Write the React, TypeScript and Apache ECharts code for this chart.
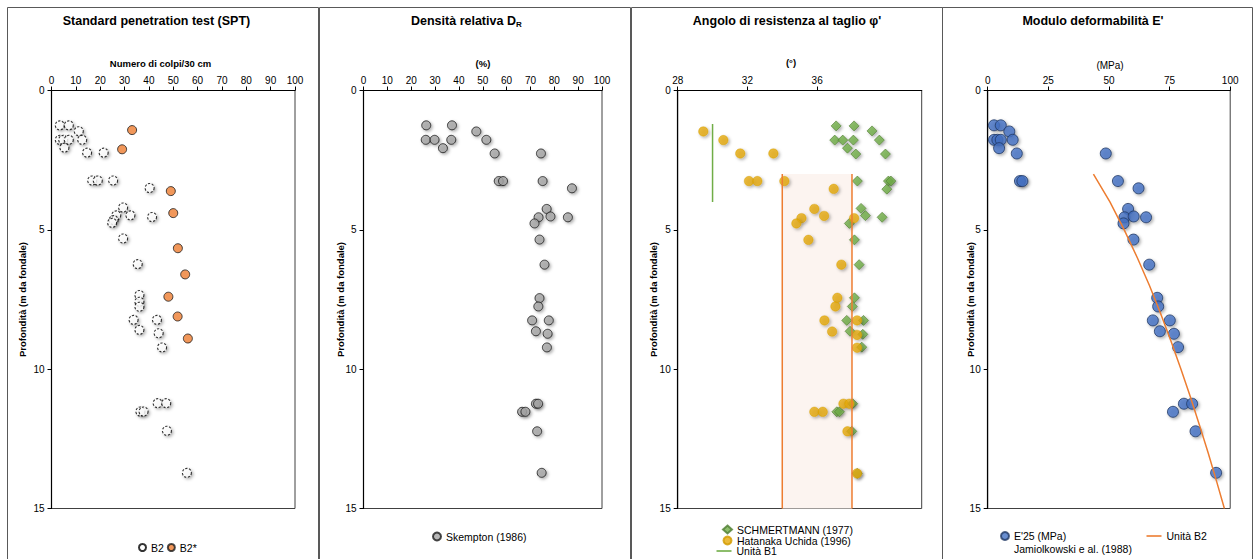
import React, { useEffect, useRef } from "react";
import * as echarts from "echarts";

// ---------- data: [value, depth (m)] ----------
const sptB2: [number, number][] = [
  [3.4, 1.25], [7.1, 1.25], [11.2, 1.46], [3.4, 1.77], [4.8, 1.77], [7.1, 1.77], [12.6, 1.77],
  [5.3, 2.05], [14.6, 2.23], [21.4, 2.23], [16.7, 3.23], [19.0, 3.23], [25.3, 3.23], [40.3, 3.5],
  [29.4, 4.2], [26.6, 4.48], [32.4, 4.48], [41.3, 4.54], [25.5, 4.65], [24.9, 4.75], [29.4, 5.31],
  [35.4, 6.23], [36.1, 7.34], [36.1, 7.58], [36.1, 7.76], [33.7, 8.23], [43.3, 8.23], [36.1, 8.59],
  [44.0, 8.71], [45.4, 9.22], [43.6, 11.22], [47.1, 11.22], [36.5, 11.52], [37.8, 11.52],
  [47.4, 12.21], [55.6, 13.72],
];

const sptB2star: [number, number][] = [
  [33.1, 1.42], [29.0, 2.11], [49.0, 3.61], [50.0, 4.4], [51.9, 5.66], [54.9, 6.6], [48.0, 7.4],
  [51.8, 8.11], [56.0, 8.9],
];

const densitySkempton: [number, number][] = [
  [26.3, 1.25], [37.1, 1.25], [47.3, 1.47], [26.1, 1.77], [29.8, 1.77], [36.8, 1.77], [51.5, 1.77],
  [33.3, 2.07], [55.0, 2.26], [74.4, 2.26], [56.7, 3.25], [58.5, 3.25], [75.1, 3.25], [87.4, 3.51],
  [76.8, 4.25], [73.4, 4.55], [78.4, 4.52], [85.7, 4.55], [71.7, 4.77], [73.8, 5.35], [75.9, 6.25],
  [73.8, 7.45], [73.3, 7.75], [70.7, 8.25], [77.7, 8.25], [72.3, 8.64], [77.2, 8.73], [76.9, 9.22],
  [72.3, 11.24], [73.2, 11.24], [66.5, 11.53], [67.9, 11.53], [72.8, 12.23], [74.7, 13.72],
];

const phiSchmertmann: [number, number][] = [
  [37.09, 1.27], [38.12, 1.27], [39.15, 1.45], [37.01, 1.78], [37.47, 1.78], [38.08, 1.78],
  [39.57, 1.78], [37.74, 2.07], [38.22, 2.28], [39.92, 2.28], [38.31, 3.25], [40.09, 3.25],
  [40.23, 3.25], [40.0, 3.54], [38.52, 4.23], [38.77, 4.49], [39.73, 4.55], [37.85, 4.77],
  [38.14, 5.36], [38.41, 6.25], [38.14, 7.44], [38.02, 7.75], [37.7, 8.25], [38.66, 8.25],
  [37.89, 8.64], [38.62, 8.75], [38.56, 9.21], [38.04, 11.24], [37.13, 11.53], [37.28, 11.53],
  [37.99, 12.23], [38.3, 13.74],
];

const phiHatanaka: [number, number][] = [
  [29.47, 1.47], [30.62, 1.78], [31.59, 2.26], [33.49, 2.26], [32.09, 3.25], [32.57, 3.25],
  [34.12, 3.25], [36.95, 3.53], [35.84, 4.25], [36.4, 4.5], [35.1, 4.58], [34.81, 4.77],
  [38.12, 4.58], [35.5, 5.36], [37.39, 6.25], [37.16, 7.44], [37.05, 7.75], [36.42, 8.25],
  [38.29, 8.25], [36.86, 8.65], [38.29, 8.77], [38.29, 9.23], [37.51, 11.24], [37.85, 11.24],
  [35.84, 11.53], [36.32, 11.53], [37.74, 12.23], [38.29, 13.74],
];

// design lines for the friction angle
const unitB1Phi: [number, number][] = [[30, 1.2], [30, 4.0]];
const unitB2PhiMin: [number, number][] = [[34, 3], [34, 15]];
const unitB2PhiMax: [number, number][] = [[38, 3], [38, 15]];

const modulusE25: [number, number][] = [
  [2.6, 1.25], [5.4, 1.25], [8.9, 1.47], [2.6, 1.77], [4.0, 1.77], [5.4, 1.77], [10.3, 1.77],
  [4.7, 2.07], [12.0, 2.26], [48.7, 2.26], [13.3, 3.25], [14.3, 3.25], [53.7, 3.25], [62.2, 3.51],
  [57.9, 4.25], [56.4, 4.55], [60.2, 4.52], [65.3, 4.55], [56.0, 4.77], [60.1, 5.35], [66.6, 6.25],
  [69.9, 7.44], [70.3, 7.75], [68.1, 8.25], [75.1, 8.25], [71.0, 8.64], [76.8, 8.73], [78.5, 9.21],
  [80.9, 11.24], [84.3, 11.24], [76.4, 11.53], [85.7, 12.23], [94.2, 13.72],
];

const unitB2Depths = [3, 4, 5, 6, 7, 8, 9, 10, 11, 12, 13, 14, 15];
const unitB2Modulus = [43.6, 50.4, 56.3, 61.7, 66.7, 71.3, 75.6, 79.7, 83.6, 87.3, 90.9, 94.3, 97.6];

const depthTicks = [0, 5, 10, 15];
const phiTicks = [28, 32, 36, 40];

// ---------- styling ----------
const FONT = "'Liberation Sans', Arial, Helvetica, sans-serif";
const DEPTH_NAME = "Profondità (m da fondale)";
const SHADOW = {
  shadowColor: "rgba(0,0,0,0.38)",
  shadowBlur: 3,
  shadowOffsetX: 1.5,
  shadowOffsetY: 1.5,
};
const LEGEND_TEXT = { fontSize: 10.5, lineHeight: 11, color: "#000", fontFamily: FONT };

const grids = [
  { left: 51.5, top: 90.5, width: 243.5, height: 418 },
  { left: 363.5, top: 90.5, width: 238.5, height: 418 },
  { left: 677.7, top: 90.5, width: 244, height: 418 },
  { left: 987.7, top: 90.5, width: 242.5, height: 418 },
];

function xAxis(gridIndex: number, min: number, max: number, interval: number, extra: any = {}) {
  return {
    type: "value",
    gridIndex,
    position: "top",
    min,
    max,
    interval,
    axisLine: { show: true, onZero: false, lineStyle: { color: "#000", width: 1.2 } },
    axisTick: { show: true, inside: false, length: 4, lineStyle: { color: "#000" }, ...(extra.axisTick || {}) },
    axisLabel: { fontSize: 10, color: "#000", margin: 5, fontFamily: FONT, ...(extra.axisLabel || {}) },
    splitLine: { show: false },
  };
}

function yAxis(gridIndex: number) {
  return {
    type: "value",
    gridIndex,
    inverse: true,
    min: depthTicks[0],
    max: depthTicks[depthTicks.length - 1],
    interval: depthTicks[1] - depthTicks[0],
    axisLine: { show: true, onZero: false, lineStyle: { color: "#000", width: 1.2 } },
    axisTick: { show: true, inside: false, length: 4, lineStyle: { color: "#000" } },
    axisLabel: { fontSize: 10, color: "#000", margin: 7, fontFamily: FONT },
    splitLine: { show: false },
  };
}

function text(x: number, y: number, str: string, font: string, align = "center", rotation = 0) {
  return {
    type: "text",
    x,
    y,
    rotation,
    silent: true,
    style: { text: str, font, fill: "#000", align, verticalAlign: "middle" },
  };
}

function frame(x: number, w: number) {
  return {
    type: "rect",
    silent: true,
    shape: { x, y: 7.5, width: w, height: 570 },
    style: { fill: "none", stroke: "#595959", lineWidth: 1 },
  };
}

const TITLE_FONT = `bold 12.5px ${FONT}`;
const NAME_FONT = `bold 9.5px ${FONT}`;

function buildOption(): any {
  return {
    animation: false,
    textStyle: { fontFamily: FONT },
    grid: grids.map((g) => ({ ...g, show: true, borderColor: "#404040", borderWidth: 1, containLabel: false })),
    xAxis: [
      xAxis(0, 0, 100, 10),
      xAxis(1, 0, 100, 10),
      xAxis(2, 28, 42, 4, {
        axisTick: { customValues: phiTicks },
        axisLabel: { customValues: phiTicks, showMaxLabel: false },
      }),
      xAxis(3, 0, 100, 25),
    ],
    yAxis: [yAxis(0), yAxis(1), yAxis(2), yAxis(3)],
    legend: [
      {
        data: ["B2", "B2*"],
        left: 138,
        top: 542,
        padding: 0,
        itemWidth: 7,
        itemHeight: 7,
        itemGap: 3,
        textStyle: LEGEND_TEXT,
      },
      {
        data: ["Skempton (1986)"],
        left: 432,
        top: 531,
        padding: 0,
        itemWidth: 8,
        itemHeight: 8,
        textStyle: LEGEND_TEXT,
      },
      {
        data: [
          { name: "SCHMERTMANN (1977)", icon: "diamond" },
          { name: "Hatanaka Uchida (1996)", icon: "circle" },
        ],
        orient: "vertical",
        left: 722,
        top: 524,
        padding: 0,
        itemWidth: 9,
        itemHeight: 8,
        itemGap: 0,
        textStyle: LEGEND_TEXT,
      },
      {
        data: [{ name: "Unità B1", icon: "rect" }],
        left: 716.5,
        top: 545.5,
        padding: 0,
        itemWidth: 15,
        itemHeight: 1.6,
        textStyle: LEGEND_TEXT,
      },
      {
        data: ["E'25 (MPa)"],
        left: 1000,
        top: 530.5,
        padding: 0,
        itemWidth: 8,
        itemHeight: 8,
        textStyle: LEGEND_TEXT,
      },
      {
        data: [{ name: "Unità B2", icon: "rect" }],
        left: 1146.5,
        top: 530.5,
        padding: 0,
        itemWidth: 15,
        itemHeight: 1.6,
        textStyle: LEGEND_TEXT,
      },
    ],
    graphic: [
      frame(7.5, 311),
      frame(319.5, 311),
      frame(631.5, 311),
      frame(942.5, 310),
      // panel titles
      text(156.5, 20.5, "Standard penetration test (SPT)", TITLE_FONT),
      text(411, 20.5, "Densità relativa D", TITLE_FONT, "left"),
      text(516, 24.5, "R", `bold 8px ${FONT}`, "left"),
      text(787, 20.5, "Angolo di resistenza al taglio φ'", TITLE_FONT),
      text(1093, 20.5, "Modulo deformabilità E'", TITLE_FONT),
      // horizontal axis names
      text(160.5, 63, "Numero di colpi/30 cm", NAME_FONT),
      text(483, 63, "(%)", NAME_FONT),
      text(791, 62, "(°)", NAME_FONT),
      text(1110, 65, "(MPa)", `10px ${FONT}`),
      // depth axis names
      text(22, 299.5, DEPTH_NAME, NAME_FONT, "center", Math.PI / 2),
      text(340, 299.5, DEPTH_NAME, NAME_FONT, "center", Math.PI / 2),
      text(653, 299.5, DEPTH_NAME, NAME_FONT, "center", Math.PI / 2),
      text(970, 299.5, DEPTH_NAME, NAME_FONT, "center", Math.PI / 2),
      // second legend line of the modulus panel
      text(1014, 549, "Jamiolkowski e al. (1988)", `10.5px ${FONT}`, "left"),
    ],
    series: [
      // SPT
      {
        name: "B2",
        type: "scatter",
        xAxisIndex: 0,
        yAxisIndex: 0,
        symbol: "circle",
        symbolSize: 9,
        itemStyle: { color: "#fff", borderColor: "#000", borderWidth: 1.1, borderType: [2.2, 1.6], ...SHADOW },
        data: sptB2,
      },
      {
        name: "B2*",
        type: "scatter",
        xAxisIndex: 0,
        yAxisIndex: 0,
        symbol: "circle",
        symbolSize: 9,
        itemStyle: { color: "#ED7D31", borderColor: "#1a1a1a", borderWidth: 1 },
        data: sptB2star,
      },
      // relative density
      {
        name: "Skempton (1986)",
        type: "scatter",
        xAxisIndex: 1,
        yAxisIndex: 1,
        symbol: "circle",
        symbolSize: 9,
        itemStyle: { color: "#A5A5A5", borderColor: "#1a1a1a", borderWidth: 1, ...SHADOW },
        data: densitySkempton,
      },
      // friction angle: unit B2 band
      {
        name: "B2 min",
        type: "line",
        xAxisIndex: 2,
        yAxisIndex: 2,
        symbol: "none",
        silent: true,
        lineStyle: { color: "#ED7D31", width: 1.5 },
        data: unitB2PhiMin,
        markArea: {
          silent: true,
          itemStyle: { color: "#FCF4F0" },
          data: [[{ coord: unitB2PhiMin[0] }, { coord: unitB2PhiMax[1] }]],
        },
      },
      {
        name: "B2 max",
        type: "line",
        xAxisIndex: 2,
        yAxisIndex: 2,
        symbol: "none",
        silent: true,
        lineStyle: { color: "#ED7D31", width: 1.5 },
        data: unitB2PhiMax,
      },
      {
        name: "Unità B1",
        type: "line",
        xAxisIndex: 2,
        yAxisIndex: 2,
        symbol: "none",
        color: "#70AD47",
        itemStyle: { color: "#70AD47" },
        lineStyle: { color: "#70AD47", width: 1.5 },
        data: unitB1Phi,
      },
      {
        name: "SCHMERTMANN (1977)",
        type: "scatter",
        xAxisIndex: 2,
        yAxisIndex: 2,
        symbol: "diamond",
        symbolSize: 10,
        itemStyle: { color: "#70AD47", borderColor: "#4E7D31", borderWidth: 0.8, ...SHADOW },
        data: phiSchmertmann,
      },
      {
        name: "Hatanaka Uchida (1996)",
        type: "scatter",
        xAxisIndex: 2,
        yAxisIndex: 2,
        symbol: "circle",
        symbolSize: 9.5,
        itemStyle: { color: "#E5A90A", borderColor: "#D29B00", borderWidth: 0.5, ...SHADOW },
        data: phiHatanaka,
      },
      // deformation modulus
      {
        name: "Unità B2",
        type: "line",
        xAxisIndex: 3,
        yAxisIndex: 3,
        symbol: "none",
        color: "#ED7D31",
        itemStyle: { color: "#ED7D31" },
        lineStyle: { color: "#ED7D31", width: 1.5 },
        data: unitB2Depths.map((d, i) => [unitB2Modulus[i], d]),
      },
      {
        name: "E'25 (MPa)",
        type: "scatter",
        xAxisIndex: 3,
        yAxisIndex: 3,
        symbol: "circle",
        symbolSize: 11,
        itemStyle: { color: "#4472C4", borderColor: "#203864", borderWidth: 1, ...SHADOW },
        data: modulusE25,
      },
    ],
  };
}

export default function App() {
  const ref = useRef<HTMLDivElement>(null);

  useEffect(() => {
    document.body.style.margin = "0";
    if (!ref.current) return;
    const chart = echarts.init(ref.current, undefined, { renderer: "svg" });
    chart.setOption(buildOption());
    return () => chart.dispose();
  }, []);

  return (
    <div
      ref={ref}
      style={{ position: "fixed", left: 0, top: 0, width: 1253, height: 559, background: "#fff" }}
    />
  );
}
